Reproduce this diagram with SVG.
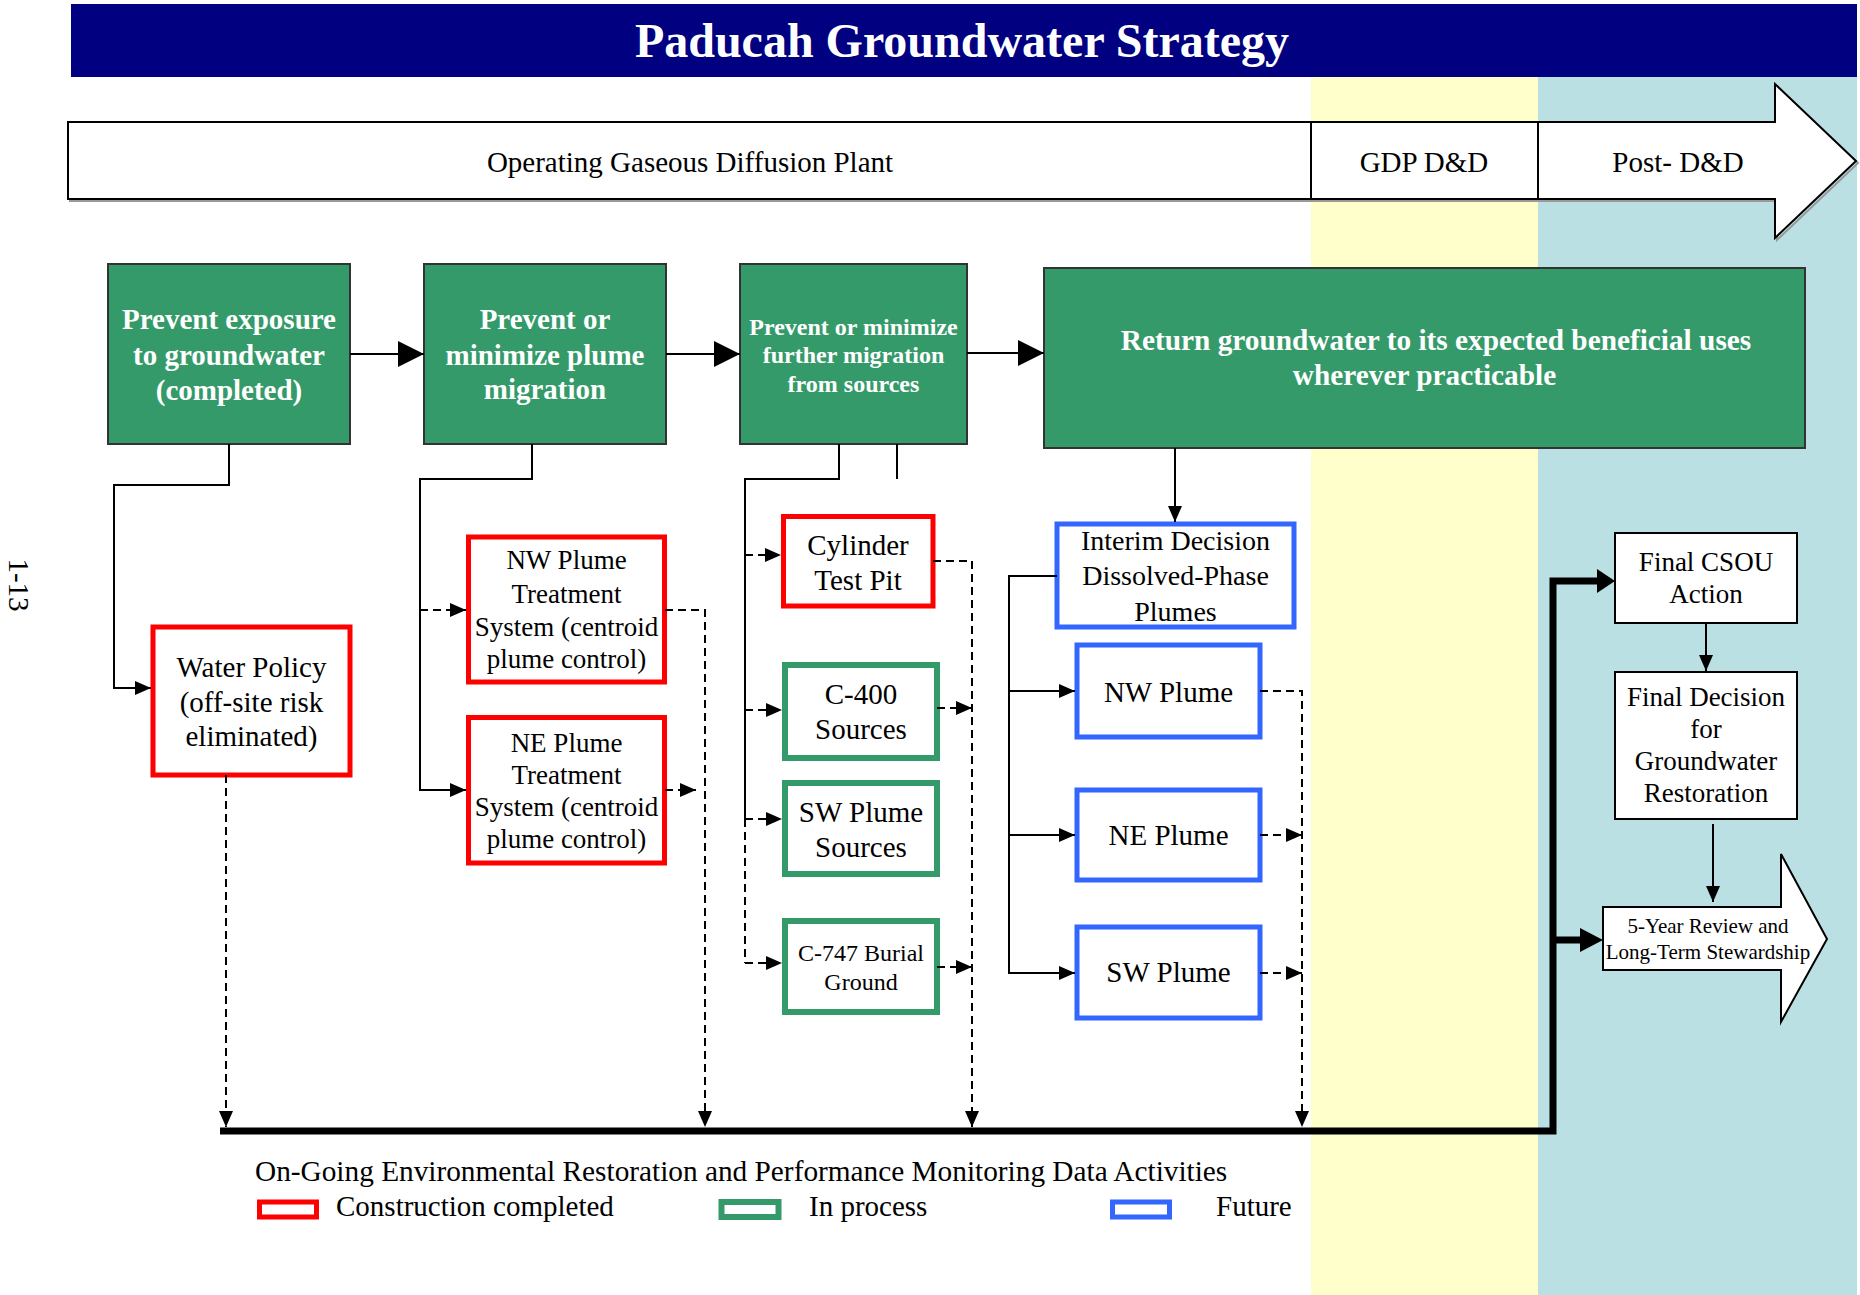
<svg xmlns="http://www.w3.org/2000/svg" width="1860" height="1295" viewBox="0 0 1860 1295">
<defs>
<style>
text{font-family:"Liberation Serif","Times New Roman",serif;fill:#000}
.t{text-anchor:middle}
.gb{fill:#359A6A;stroke:#333;stroke-width:2}
.gt{fill:#fff;font-weight:bold;text-anchor:middle}
.red{fill:#fff;stroke:#FF0000;stroke-width:5}
.grn{fill:#fff;stroke:#359A6A;stroke-width:6}
.blu{fill:#fff;stroke:#3366FF;stroke-width:5}
.wb{fill:#fff;stroke:#000;stroke-width:2}
.c{fill:none;stroke:#000;stroke-width:2}
.d{fill:none;stroke:#000;stroke-width:2;stroke-dasharray:8 5}
.thick{fill:none;stroke:#000;stroke-width:7}
</style>
<marker id="a" viewBox="0 0 16 14" refX="16" refY="7" markerWidth="16" markerHeight="14" markerUnits="userSpaceOnUse" orient="auto"><path d="M0,0 L16,7 L0,14 Z" fill="#000" stroke="none"/></marker>
<marker id="A" viewBox="0 0 26 26" refX="26" refY="13" markerWidth="26" markerHeight="26" markerUnits="userSpaceOnUse" orient="auto"><path d="M0,0 L26,13 L0,26 Z" fill="#000" stroke="none"/></marker>
</defs>
<rect width="1860" height="1295" fill="#fff"/>
<!-- bands -->
<rect x="1311" y="77" width="227" height="1218" fill="#FFFFCC"/>
<rect x="1538" y="77" width="319" height="1218" fill="#BBE0E3"/>
<!-- title -->
<g id="title">
<rect x="71" y="4" width="1786" height="73" fill="#000080"/>
<text x="962" y="57" class="t" font-size="48" font-weight="bold" style="fill:#fff">Paducah Groundwater Strategy</text>
</g>
<!-- page number -->
<text transform="translate(9,585) rotate(90)" class="t" font-size="29">1-13</text>
<!-- timeline -->
<g id="timeline">
<path d="M70,124 H1777 V86 L1858,163 L1777,240 V201 H70 Z" fill="none" stroke="#999" stroke-width="2"/>
<path d="M68,122 H1775 V84 L1856,161 L1775,238 V199 H68 Z" fill="#fff" stroke="#000" stroke-width="2"/>
<line x1="1311" y1="122" x2="1311" y2="199" stroke="#000" stroke-width="2"/>
<line x1="1538" y1="122" x2="1538" y2="199" stroke="#000" stroke-width="2"/>
<text x="690" y="172" class="t" font-size="29">Operating Gaseous Diffusion Plant</text>
<text x="1424" y="172" class="t" font-size="29">GDP D&amp;D</text>
<text x="1678" y="172" class="t" font-size="29">Post- D&amp;D</text>
</g>
<!-- goal nodes -->
<g id="goal1">
<rect class="gb" x="108" y="264" width="242" height="180"/>
<text class="gt" font-size="29"><tspan x="229" y="329">Prevent exposure</tspan><tspan x="229" y="365">to groundwater</tspan><tspan x="229" y="400">(completed)</tspan></text>
</g>
<g id="goal2">
<rect class="gb" x="424" y="264" width="242" height="180"/>
<text class="gt" font-size="29"><tspan x="545" y="329">Prevent or</tspan><tspan x="545" y="365">minimize plume</tspan><tspan x="545" y="399">migration</tspan></text>
</g>
<g id="goal3">
<rect class="gb" x="740" y="264" width="227" height="180"/>
<text class="gt" font-size="24"><tspan x="853.5" y="335">Prevent or minimize</tspan><tspan x="853.5" y="363">further migration</tspan><tspan x="853.5" y="392">from sources</tspan></text>
</g>
<g id="goal4">
<rect class="gb" x="1044" y="268" width="761" height="180"/>
<text class="gt" font-size="29.3"><tspan x="1436" y="350">Return groundwater to its expected beneficial uses</tspan><tspan x="1424.5" y="385">wherever practicable</tspan></text>
</g>
<!-- action nodes -->
<g id="water-policy">
<rect class="red" x="153" y="627" width="197" height="148"/>
<text class="t" font-size="29"><tspan x="251.5" y="677">Water Policy</tspan><tspan x="251.5" y="712">(off-site risk</tspan><tspan x="251.5" y="746">eliminated)</tspan></text>
</g>
<g id="nw-treatment">
<rect class="red" x="468.5" y="537" width="196" height="145"/>
<text class="t" font-size="27"><tspan x="566.5" y="569">NW Plume</tspan><tspan x="566.5" y="603">Treatment</tspan><tspan x="566.5" y="636">System (centroid</tspan><tspan x="566.5" y="668">plume control)</tspan></text>
</g>
<g id="ne-treatment">
<rect class="red" x="468.5" y="717.5" width="196" height="145.5"/>
<text class="t" font-size="27"><tspan x="566.5" y="752">NE Plume</tspan><tspan x="566.5" y="784">Treatment</tspan><tspan x="566.5" y="816">System (centroid</tspan><tspan x="566.5" y="848">plume control)</tspan></text>
</g>
<g id="cylinder">
<rect class="red" x="783.5" y="516.5" width="149.5" height="89.5"/>
<text class="t" font-size="29"><tspan x="858" y="555">Cylinder</tspan><tspan x="858" y="590">Test Pit</tspan></text>
</g>
<g id="c400">
<rect class="grn" x="785" y="665" width="152" height="93"/>
<text class="t" font-size="29"><tspan x="861" y="704">C-400</tspan><tspan x="861" y="739">Sources</tspan></text>
</g>
<g id="sw-sources">
<rect class="grn" x="785" y="783" width="152" height="91"/>
<text class="t" font-size="29"><tspan x="861" y="822">SW Plume</tspan><tspan x="861" y="857">Sources</tspan></text>
</g>
<g id="c747">
<rect class="grn" x="785" y="921" width="152" height="91"/>
<text class="t" font-size="24"><tspan x="861" y="961">C-747 Burial</tspan><tspan x="861" y="990">Ground</tspan></text>
</g>
<g id="interim">
<rect class="blu" x="1057" y="524" width="237" height="103"/>
<text class="t" font-size="28"><tspan x="1175.5" y="550">Interim Decision</tspan><tspan x="1175.5" y="585">Dissolved-Phase</tspan><tspan x="1175.5" y="621">Plumes</tspan></text>
</g>
<g id="nw-plume">
<rect class="blu" x="1077" y="645" width="183" height="92"/>
<text x="1168.5" y="702" class="t" font-size="29">NW Plume</text>
</g>
<g id="ne-plume">
<rect class="blu" x="1077" y="790" width="183" height="90"/>
<text x="1168.5" y="845" class="t" font-size="29">NE Plume</text>
</g>
<g id="sw-plume">
<rect class="blu" x="1077" y="927" width="183" height="91"/>
<text x="1168.5" y="982" class="t" font-size="29">SW Plume</text>
</g>
<g id="final-csou">
<rect class="wb" x="1615" y="533" width="182" height="90"/>
<text class="t" font-size="27"><tspan x="1706" y="571">Final CSOU</tspan><tspan x="1706" y="603">Action</tspan></text>
</g>
<g id="final-decision">
<rect class="wb" x="1615" y="672" width="182" height="147"/>
<text class="t" font-size="27"><tspan x="1706" y="706">Final Decision</tspan><tspan x="1706" y="738">for</tspan><tspan x="1706" y="770">Groundwater</tspan><tspan x="1706" y="802">Restoration</tspan></text>
</g>
<g id="five-year">
<path class="wb" d="M1603,907 H1781 V854 L1827,939 L1781,1022 V970 H1603 Z"/>
<text class="t" font-size="21"><tspan x="1708" y="933">5-Year Review and</tspan><tspan x="1708" y="959">Long-Term Stewardship</tspan></text>
</g>
<!-- connectors -->
<g id="connectors">
<path class="c" d="M350,354 H424" marker-end="url(#A)"/>
<path class="c" d="M666,354 H740" marker-end="url(#A)"/>
<path class="c" d="M967,353 H1044" marker-end="url(#A)"/>
<path class="c" d="M229,444 V485 H114 V688 H151" marker-end="url(#a)"/>
<path class="c" d="M532,444 V479 H420 V790 H466" marker-end="url(#a)"/>
<path class="d" d="M420,610 H466" marker-end="url(#a)"/>
<path class="c" d="M839,444 V479 H745 V819"/>
<path class="c" d="M897,444 V479"/>
<path class="d" d="M745,819 V963"/>
<path class="d" d="M745,555 H781" marker-end="url(#a)"/>
<path class="d" d="M745,710 H782" marker-end="url(#a)"/>
<path class="d" d="M745,819 H782" marker-end="url(#a)"/>
<path class="d" d="M745,963 H782" marker-end="url(#a)"/>
<path class="d" d="M226,775 V1127" marker-end="url(#a)"/>
<path class="d" d="M665,610 H705 V1127" marker-end="url(#a)"/>
<path class="d" d="M665,790 H696" marker-end="url(#a)"/>
<path class="d" d="M933,561 H972 V1127" marker-end="url(#a)"/>
<path class="d" d="M937,708 H972" marker-end="url(#a)"/>
<path class="d" d="M937,967 H972" marker-end="url(#a)"/>
<path class="c" d="M1175,448 V522" marker-end="url(#a)"/>
<path class="c" d="M1057,576 H1009 V973 H1075" marker-end="url(#a)"/>
<path class="c" d="M1009,691 H1075" marker-end="url(#a)"/>
<path class="c" d="M1009,835 H1075" marker-end="url(#a)"/>
<path class="d" d="M1260,691 H1302 V1127" marker-end="url(#a)"/>
<path class="d" d="M1260,835 H1302" marker-end="url(#a)"/>
<path class="d" d="M1260,973 H1302" marker-end="url(#a)"/>
<path class="c" d="M1706,623 V671" marker-end="url(#a)"/>
<path class="c" d="M1713,824 V902" marker-end="url(#a)"/>
<path class="thick" d="M220,1131 H1553 V581 H1598"/>
<path class="thick" d="M1553,940 H1581"/>
<polygon points="1597,569 1615,581 1597,593" fill="#000"/>
<polygon points="1580,928 1603,940 1580,952" fill="#000"/>
</g>
<!-- legend -->
<g id="legend">
<text x="255" y="1181" font-size="29.3">On-Going Environmental Restoration and Performance Monitoring Data Activities</text>
<rect class="red" x="259.5" y="1202" width="57" height="15"/>
<text x="336" y="1216" font-size="29">Construction completed</text>
<rect x="721.5" y="1202" width="57" height="15" fill="#fff" stroke="#359A6A" stroke-width="6"/>
<text x="809" y="1216" font-size="29">In process</text>
<rect class="blu" x="1112.5" y="1202" width="57" height="15"/>
<text x="1216" y="1216" font-size="29">Future</text>
</g>
</svg>
